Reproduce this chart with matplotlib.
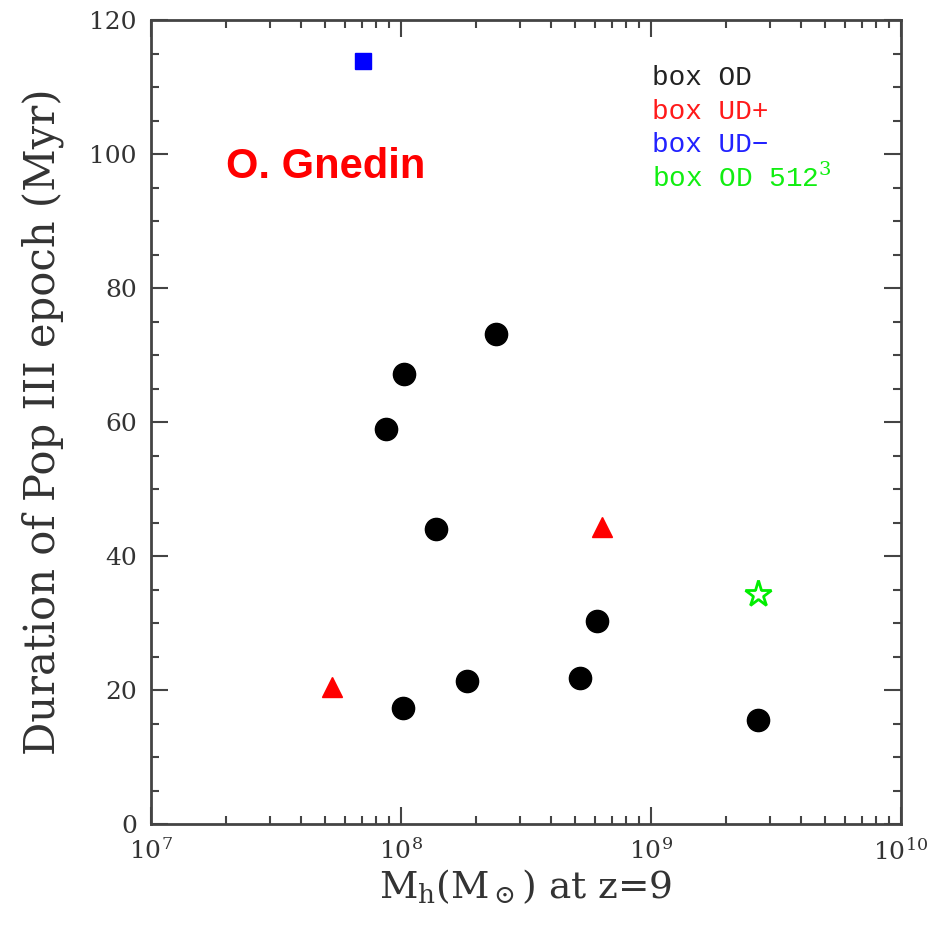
import numpy as np
import matplotlib
matplotlib.use("Agg")
import matplotlib.pyplot as plt
from matplotlib.ticker import LogLocator, MultipleLocator, FixedLocator, NullFormatter

# halo mass at z=9 (Msun) and duration of Pop III epoch (Myr)
od_mass = [8.7e7, 1.03e8, 1.02e8, 1.39e8, 1.85e8, 2.4e8, 5.2e8, 6.1e8, 2.68e9]
od_dur = [59.0, 67.2, 17.4, 44.0, 21.3, 73.2, 21.8, 30.3, 15.6]
udp_mass = [5.3e7, 6.4e8]
udp_dur = [20.4, 44.4]
udm_mass = [7.05e7]
udm_dur = [113.9]
od512_mass = [2.7e9]
od512_dur = [34.4]

legend_labels = ["box OD", "box UD+", "box UD\u2212", "box OD 512$^3$"]
legend_colors = ["#222222", "#ff1a1a", "#2222ff", "#11ee11"]
xtick_vals = [1e7, 1e8, 1e9, 1e10]
xtick_labels = ["10$^7$", "10$^8$", "10$^9$", "10$^{10}$"]

plt.rcParams["font.family"] = ["DejaVu Serif"]
plt.rcParams["mathtext.fontset"] = "dejavuserif"

fig = plt.figure(figsize=(9.42, 9.27), dpi=100)
ax = fig.add_axes([0.160, 0.111, 0.796, 0.867])

ax.plot(od_mass, od_dur, "o", color="black", ms=16, mec="black")
ax.plot(udp_mass, udp_dur, "^", color="#ff0000", ms=15, mec="#ff0000")
ax.plot(udm_mass, udm_dur, "s", color="#0000ff", ms=12, mec="#0000ff")
ax.plot(od512_mass, od512_dur, "*", mfc="white", mec="#00ee00", mew=2, ms=20)

ax.set_xscale("log")
ax.set_xlim(1e7, 1e10)
ax.set_ylim(0, 120)

ax.xaxis.set_major_locator(FixedLocator(xtick_vals))
ax.set_xticklabels(xtick_labels)
ax.xaxis.set_minor_locator(LogLocator(base=10, subs=np.arange(2, 10)))
ax.xaxis.set_minor_formatter(NullFormatter())
ax.yaxis.set_major_locator(MultipleLocator(20))
ax.yaxis.set_minor_locator(MultipleLocator(5))

spine_col = "#444444"
for s in ax.spines.values():
    s.set_color(spine_col)
    s.set_linewidth(2)
ax.tick_params(which="both", direction="in", top=True, right=True, colors=spine_col,
               labelcolor="#333333", width=1.5)
ax.tick_params(which="major", length=12, labelsize=18, pad=10)
ax.tick_params(which="minor", length=6)

ax.set_ylabel("Duration of Pop III epoch (Myr)", fontsize=30, color="#333333", labelpad=18)
ax.set_xlabel(r"M$_{\rm h}$(M$_\odot$) at z=9", fontsize=27, color="#333333", labelpad=2)

leg_y = [0.928, 0.886, 0.845, 0.803]
for lab, col, yy in zip(legend_labels, legend_colors, leg_y):
    ax.text(0.669, yy, lab, transform=ax.transAxes, color=col, fontsize=20,
            family=["Liberation Mono"], va="center", ha="left")

ax.text(0.1, 0.817, "O. Gnedin", transform=ax.transAxes, color="#ff0000", fontsize=30,
        family=["Liberation Sans"], fontweight="bold", va="center", ha="left")

fig.savefig("out.png", dpi=100)
